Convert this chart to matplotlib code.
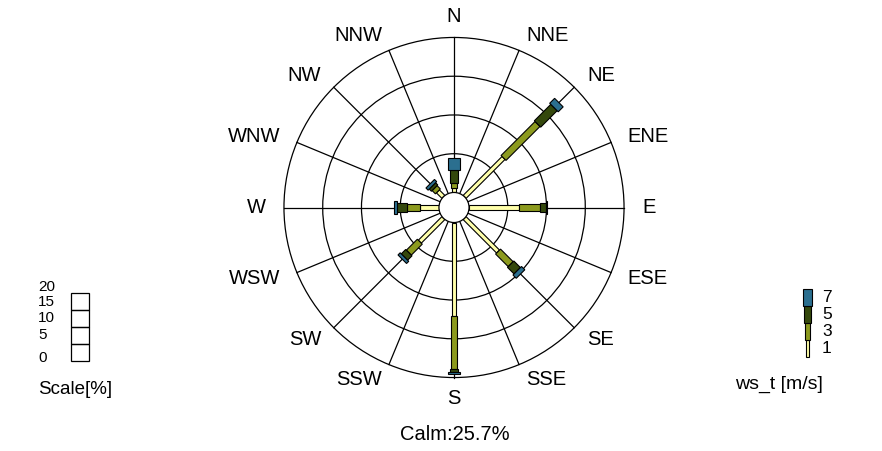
import numpy as np
import matplotlib.pyplot as plt
from matplotlib.patches import Circle, Polygon, Rectangle

plt.rcParams["font.family"] = ["Liberation Sans", "DejaVu Sans"]

# Data (percent of all observations)
directions = ["N", "NNE", "NE", "ENE", "E", "ESE", "SE", "SSE",
              "S", "SSW", "SW", "WSW", "W", "WNW", "NW", "NNW"]
speed_labels = ["1", "3", "5", "7"]
freq_ws1 = [0.6, 0, 7.1, 0, 6.5, 0, 6.1, 0, 12.1, 0, 4.3, 0, 2.4, 0, 1.0, 0]
freq_ws3 = [0.65, 0, 6.2, 0, 2.7, 0, 2.3, 0, 6.8, 0, 2.0, 0, 1.7, 0, 0.6, 0]
freq_ws5 = [1.7, 0, 3.0, 0, 0.7, 0, 1.2, 0, 0.4, 0, 0.8, 0, 1.3, 0, 0.4, 0]
freq_ws7 = [1.5, 0, 0.9, 0, 0.2, 0, 0.6, 0, 0.2, 0, 0.4, 0, 0.35, 0, 0.4, 0]
calm_pct = 25.7
scale_ticks = ["20", "15", "10", "5", "0"]

colors = ["#FFFFAA", "#8C9A1E", "#34480C", "#2B6F8F"]
half_widths = [0.27, 0.45, 0.58, 0.78]   # bar half width per speed class

CALM_R = 1.94      # radius of calm circle (in % units)
RING_STEP = 5      # percent per ring
N_RINGS = 4
R_OUT = CALM_R + RING_STEP * N_RINGS
PX = 7.75          # pixels per percent unit
L = 200 / PX

fig = plt.figure(figsize=(8.82, 4.51), dpi=100)
ax = fig.add_axes([254 / 882, (451 - 207.5 - 200) / 451, 400 / 882, 400 / 451])
ax.set_xlim(-L, L)
ax.set_ylim(-L, L)
ax.set_aspect("equal")
ax.axis("off")

theta = np.deg2rad(np.arange(16) * 22.5)

# rings
for i in range(1, N_RINGS + 1):
    ax.add_patch(Circle((0, 0), CALM_R + i * RING_STEP, fill=False,
                        ec="black", lw=0.9, zorder=1))

# spokes
for t in theta:
    ax.plot([CALM_R * np.sin(t), R_OUT * np.sin(t)],
            [CALM_R * np.cos(t), R_OUT * np.cos(t)],
            color="black", lw=0.9, zorder=1)

# stacked bars
series = [freq_ws1, freq_ws3, freq_ws5, freq_ws7]
for k, t in enumerate(theta):
    u = np.array([np.sin(t), np.cos(t)])
    n = np.array([np.cos(t), -np.sin(t)])
    r0 = CALM_R
    for vals, col, hw in zip(series, colors, half_widths):
        v = vals[k]
        if v <= 0:
            continue
        r1 = r0 + v
        pts = [r0 * u + hw * n, r1 * u + hw * n, r1 * u - hw * n, r0 * u - hw * n]
        ax.add_patch(Polygon(pts, closed=True, fc=col, ec="black",
                             lw=0.8, zorder=3))
        r0 = r1

# calm circle
ax.add_patch(Circle((0, 0), CALM_R, fc="white", ec="black", lw=0.9, zorder=4))

# direction labels: side labels anchored by their inner edge
for name, t in zip(directions, theta):
    s, c = np.sin(t), np.cos(t)
    ha = "left" if s > 0.2 else ("right" if s < -0.2 else "center")
    ry = 191 / PX if ha == "center" else 186 / PX
    ax.text(188 / PX * s, ry * c, name, ha=ha, va="center", fontsize=14.5)

# overlay in pixel coordinates for legends and notes
ov = fig.add_axes([0, 0, 1, 1])
ov.set_xlim(0, 882)
ov.set_ylim(451, 0)
ov.axis("off")

ov.text(455, 435, f"Calm:{calm_pct}%", ha="center", va="center", fontsize=14.5)

# scale legend
scale_y = [287, 302, 318, 335, 358]
for lab, y in zip(scale_ticks, scale_y):
    ov.text(38, y, lab, ha="left", va="center", fontsize=11)
box_top, box_h = 292.7, 17
for i in range(4):
    ov.add_patch(Rectangle((71, box_top + i * box_h), 18, box_h,
                           fill=False, ec="black", lw=0.9))
ov.text(38, 390, "Scale[%]", ha="left", va="center", fontsize=13.5)

# wind speed legend
leg_w = [3.7, 5, 7, 8.3]
leg_bottom, leg_h = 357.3, 17
for i, (lab, col, w) in enumerate(zip(speed_labels, colors, leg_w)):
    y0 = leg_bottom - (i + 1) * leg_h
    ov.add_patch(Rectangle((807.5 - w / 2, y0), w, leg_h, fc=col,
                           ec="black", lw=0.8))
    ov.text(822, y0 + leg_h / 2, lab, ha="left", va="center", fontsize=12.5)
ov.text(779, 384, "ws_t [m/s]", ha="center", va="center", fontsize=14)

fig.savefig("out.png", dpi=100)
